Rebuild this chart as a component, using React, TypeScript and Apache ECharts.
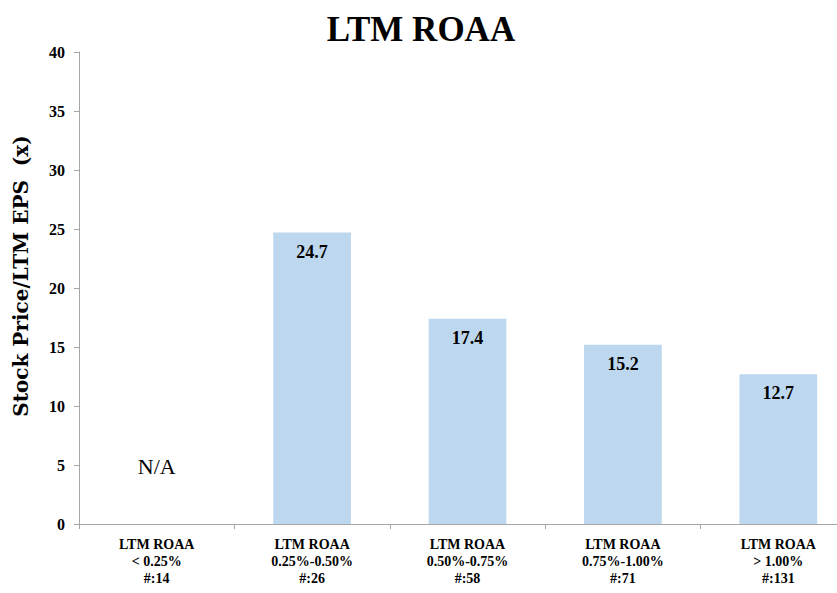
import React, { useEffect, useRef } from "react";
import * as echarts from "echarts";

const categories = [
  "LTM ROAA\n< 0.25%\n#:14",
  "LTM ROAA\n0.25%-0.50%\n#:26",
  "LTM ROAA\n0.50%-0.75%\n#:58",
  "LTM ROAA\n0.75%-1.00%\n#:71",
  "LTM ROAA\n> 1.00%\n#:131",
];
const values: (number | null)[] = [null, 24.7, 17.4, 15.2, 12.7];
const naLabel = "N/A";
const yMin = 0;
const yMax = 40;
const yInterval = 5;
const title = "LTM ROAA";
const yName = "Stock Price/LTM EPS  (x)";

const FONT = "'Liberation Serif', 'DejaVu Serif', serif";
const WIDE_FONT = "'DejaVu Serif', 'Liberation Serif', serif";

export default function App() {
  const ref = useRef<HTMLDivElement>(null);
  useEffect(() => {
    if (!ref.current) return;
    const chart = echarts.init(ref.current, undefined, { renderer: "svg" });
    const data = values.map((v) =>
      v === null
        ? {
            value: 0,
            label: {
              show: true,
              position: "top",
              distance: 47,
              formatter: naLabel,
              fontWeight: "normal",
              fontSize: 22,
              color: "#000",
              fontFamily: FONT,
            },
          }
        : { value: v }
    );
    chart.setOption({
      animation: false,
      backgroundColor: "#fff",
      textStyle: { fontFamily: FONT },
      title: {
        text: title,
        left: 416,
        textAlign: "center",
        top: 7,
        textStyle: { fontSize: 35, fontWeight: "bold", color: "#000", fontFamily: FONT },
      },
      grid: { left: 79, right: 0, top: 52, bottom: 69, containLabel: false },
      xAxis: {
        type: "category",
        data: categories,
        axisLine: { lineStyle: { color: "#A6A6A6", width: 1 } },
        axisTick: { show: true, length: 5, lineStyle: { color: "#A6A6A6" } },
        axisLabel: {
          color: "#000",
          fontWeight: "bold",
          fontSize: 14,
          lineHeight: 17,
          margin: 12,
          fontFamily: FONT,
          interval: 0,
        },
      },
      yAxis: {
        type: "value",
        min: yMin,
        max: yMax,
        interval: yInterval,
        name: yName,
        nameLocation: "middle",
        nameGap: 48,
        nameTextStyle: {
          fontSize: 20,
          fontWeight: "bold",
          color: "#000",
          fontFamily: WIDE_FONT,
          padding: [0, 0, 0, 24],
        },
        axisLine: { show: true, lineStyle: { color: "#A6A6A6", width: 1 } },
        axisTick: { show: true, length: 5, lineStyle: { color: "#A6A6A6" } },
        splitLine: { show: false },
        axisLabel: {
          color: "#000",
          fontWeight: "bold",
          fontSize: 16,
          margin: 14,
          fontFamily: FONT,
        },
      },
      series: [
        {
          type: "bar",
          data,
          barWidth: "50%",
          itemStyle: { color: "#BDD7EE" },
          label: {
            show: true,
            position: "insideTop",
            distance: 10,
            color: "#000",
            fontWeight: "bold",
            fontSize: 18,
            fontFamily: FONT,
          },
        },
      ],
    });
    return () => chart.dispose();
  }, []);
  return (
    <div style={{ width: 837, height: 593, position: "absolute", left: 0, top: 0, overflow: "hidden", background: "#fff" }}>
      <div ref={ref} style={{ width: 856, height: 593 }} />
    </div>
  );
}
